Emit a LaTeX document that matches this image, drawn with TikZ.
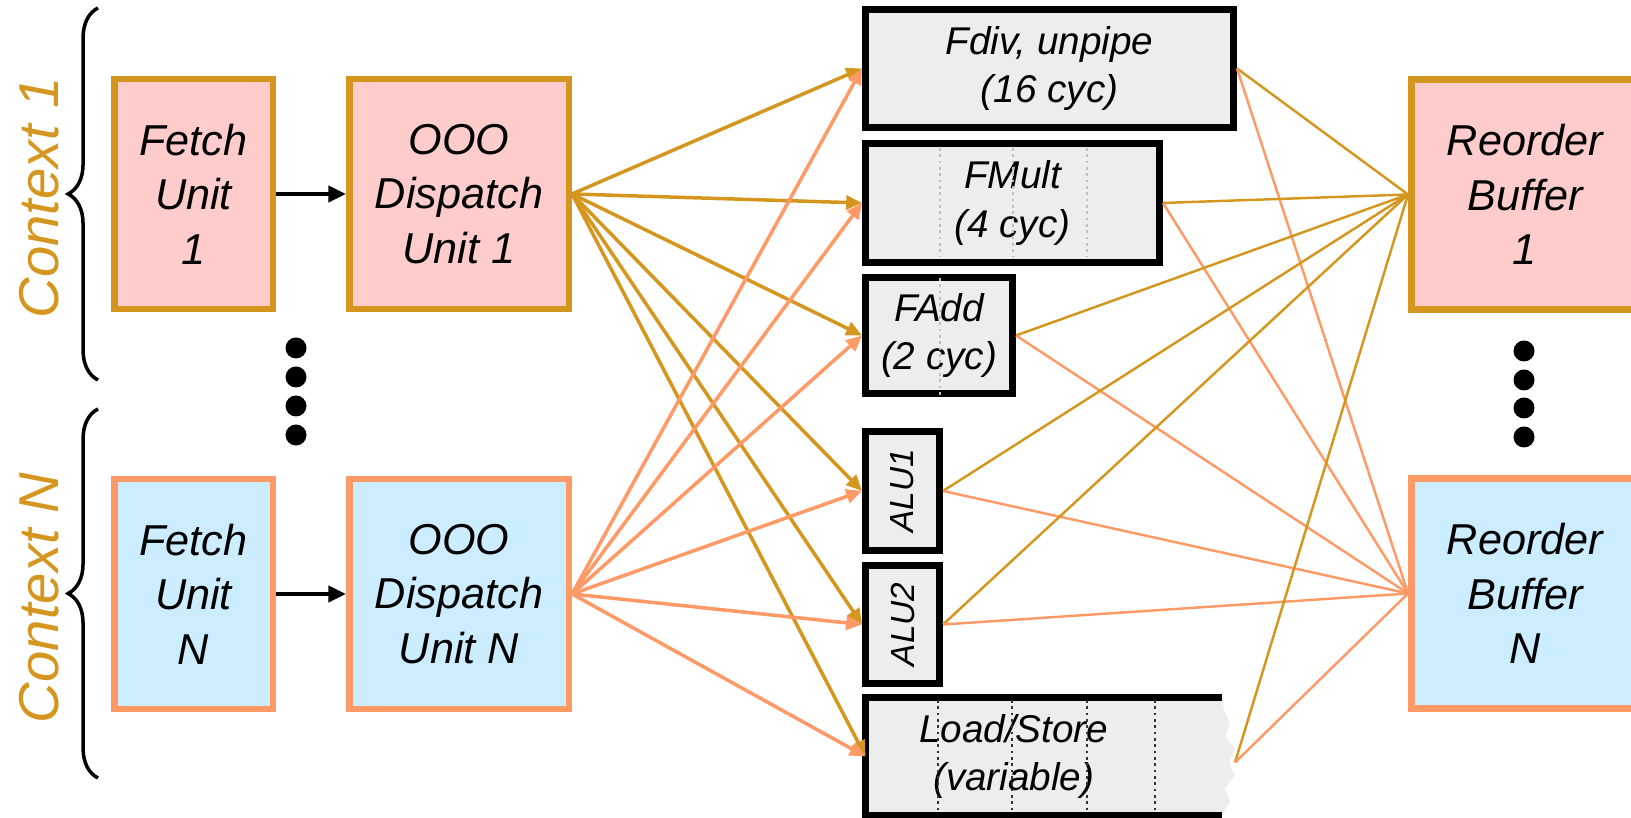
\documentclass[tikz,border=0pt]{standalone}
\usepackage{fontspec}
\usepackage{graphicx}
\setmainfont{Liberation Sans}
\usetikzlibrary{arrows.meta,decorations.pathreplacing}
\definecolor{gold}{HTML}{D4961E}
\definecolor{salmon}{HTML}{FF9966}
\definecolor{blush}{HTML}{FFCCCC}
\definecolor{sky}{HTML}{CCECFF}
\definecolor{chalk}{HTML}{EDEDED}

\begin{document}
\begin{tikzpicture}[font=\itshape,>={Triangle[length=4.5pt,width=4pt]},
  unit/.style={line width=1.85pt,inner sep=0pt,align=center,
    minimum height=2.3cm,font=\itshape\fontsize{12.3}{15.5}\selectfont},
  ctxa/.style={unit,draw=gold,fill=blush},
  ctxn/.style={unit,draw=salmon,fill=sky},
  fu/.style={draw=black,line width=2pt,fill=chalk,inner sep=0pt,
    align=center,font=\itshape\fontsize{11}{13.7}\selectfont},
  ctxlabel/.style={gold,rotate=90,font=\itshape\fontsize{16}{19}\selectfont},
  ctxbrace/.style={decorate,decoration={brace,amplitude=8.5pt},line width=1pt},
  goldin/.style={gold,line width=1pt,->},
  salmonin/.style={salmon,line width=1pt,->},
  goldout/.style={gold,line width=.7pt},
  salmonout/.style={salmon,line width=.7pt},
  texture/.style={densely dotted,line width=.8pt}]
  \path[use as bounding box,clip] (0,0) rectangle (16.31,8.18);

  \node[ctxlabel] (ctxA) at (.39,6.2) {Context 1};
  \node[ctxlabel] (ctxN) at (.39,2.2) {Context N};
  \draw[ctxbrace] (.98,4.38) -- (.98,8.1);
  \draw[ctxbrace] (.98,.4) -- (.98,4.09);

  \node[ctxa,minimum width=1.585cm] (fetchA) at (1.935,6.24) {Fetch\\Unit\\1};
  \node[ctxa,minimum width=2.195cm] (dispA) at (4.59,6.24) {OOO\\Dispatch\\Unit 1};
  \node[ctxn,minimum width=1.585cm] (fetchN) at (1.935,2.24) {Fetch\\Unit\\N};
  \node[ctxn,minimum width=2.195cm] (dispN) at (4.59,2.24) {OOO\\Dispatch\\Unit N};
  \node[ctxa,minimum width=2.275cm] (robA) at (15.25,6.235) {Reorder\\Buffer\\1};
  \node[ctxn,minimum width=2.275cm] (robN) at (15.25,2.245) {Reorder\\Buffer\\N};

  \foreach \y in {4.70,4.41,4.12,3.83}
    \fill (2.96,\y) circle (.105);
  \foreach \y in {4.67,4.38,4.10,3.81}
    \fill (15.24,\y) circle (.105);

  \draw[line width=1.2pt,-{Triangle[length=5pt,width=4.5pt]}]
    (fetchA.east) -- (dispA.west);
  \draw[line width=1.2pt,-{Triangle[length=5pt,width=4.5pt]}]
    (fetchN.east) -- (dispN.west);

  \node[fu,minimum width=3.68cm,minimum height=1.18cm] (fdiv)
    at (10.495,7.495) {Fdiv, unpipe\\(16 cyc)};
  \node[fu,minimum width=2.94cm,minimum height=1.19cm] (fmult)
    at (10.125,6.15) {FMult\\(4 cyc)};
  \node[fu,minimum width=1.47cm,minimum height=1.16cm] (fadd)
    at (9.39,4.825) {FAdd\\(2 cyc)};
  \node[fu,minimum width=.74cm,minimum height=1.19cm,
        font=\itshape\fontsize{9.5}{11}\selectfont] (aluA)
    at (9.025,3.27) {\rotatebox{90}{ALU1}};
  \node[fu,minimum width=.74cm,minimum height=1.18cm,
        font=\itshape\fontsize{9.5}{11}\selectfont] (aluB)
    at (9.025,1.935) {\rotatebox{90}{ALU2}};
  \node[fu,draw=none,outer sep=0pt,minimum width=2.965cm,
        minimum height=1.18cm] (ldst)
    at (10.1375,.615) {Load/Store\\(variable)};
  \fill[chalk] (ldst.north east) -- ++(.6,0) -- ++(.02,-.13)
    -- ++(.06,-.13) -- ++(-.05,-.13) -- ++(.1,-.13) -- ++(-.06,-.13)
    -- ++(.06,-.13) -- ++(-.1,-.13) -- ++(.05,-.13) -- ++(-.08,-.14)
    -- (ldst.south east) -- cycle;
  \draw[line width=2pt] (ldst.north east) ++(.6,0) -- (ldst.north west)
    -- (ldst.south west) -- ++(3.565,0);
  \coordinate (ldstout) at ([shift={(.73,-.06)}]ldst.east);

  \foreach \x in {9.40,10.13,10.87}
    \draw[texture,black!25] (\x,6.70) -- (\x,5.61);
  \draw[texture,black!25] (9.40,5.40) -- (9.40,4.23);
  \foreach \x in {9.38,10.12,10.87,11.55}
    \draw[texture,black!80] (\x,1.18) -- (\x,.06);

  \foreach \f in {fdiv,fmult,fadd,aluA,aluB,ldst}
    \draw[goldin] (dispA.east) -- (\f.west);
  \foreach \f in {fdiv,fmult,fadd,aluA,aluB,ldst}
    \draw[salmonin] (dispN.east) -- (\f.west);
  \foreach \f in {fdiv.east,fmult.east,fadd.east,aluA.east,aluB.east,ldstout}{
    \draw[goldout] (\f) -- (robA.west);
    \draw[salmonout] (\f) -- (robN.west);
  }
\end{tikzpicture}
\end{document}
